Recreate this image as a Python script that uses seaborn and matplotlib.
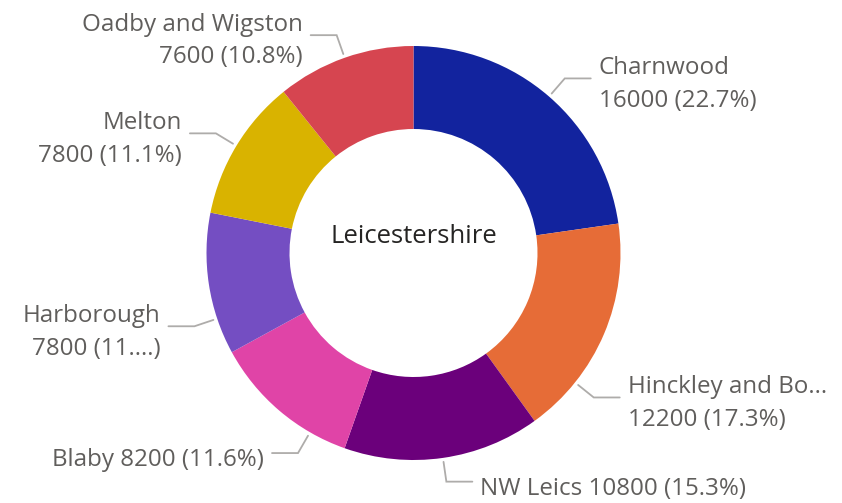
import numpy as np
import matplotlib
matplotlib.use("Agg")
import matplotlib.pyplot as plt
import seaborn as sns

names = ["Charnwood", "Hinckley and Bosworth", "NW Leics", "Blaby",
         "Harborough", "Melton", "Oadby and Wigston"]
values = [16000, 12200, 10800, 8200, 7800, 7800, 7600]
shown_labels = ["Charnwood\n16000 (22.7%)",
                "Hinckley and Bo...\n12200 (17.3%)",
                "NW Leics 10800 (15.3%)",
                "Blaby 8200 (11.6%)",
                "Harborough\n7800 (11....)",
                "Melton\n7800 (11.1%)",
                "Oadby and Wigston\n7600 (10.8%)"]
colors = ["#12239E", "#E66C37", "#6B007B", "#E044A7", "#744EC2", "#D9B300", "#D64550"]
center_title = "Leicestershire"

# layout: leader-line angle nudges (degrees) to avoid label collisions
leader_nudge = [0, 15.7, 0, -10.4, -9.8, 0, 0]

sns.set_theme(style="white")
plt.rcParams['font.family'] = ['Open Sans', 'DejaVu Sans']

W, H = 842, 503
fig = plt.figure(figsize=(W / 100, H / 100), dpi=100)
ax = fig.add_axes([0, 0, 1, 1])

cx, cy = 413.5, 250.0
R, r_in = 207.0, 124.0
palette = sns.color_palette(colors)
ax.pie(values, colors=palette, startangle=90, counterclock=False,
       radius=R, center=(cx, cy),
       wedgeprops=dict(width=R - r_in, linewidth=0))

total = float(sum(values))
cum = np.cumsum([0] + values[:-1])
label_color = "#605E5C"
line_color = "#AEACAA"
for v, c0, txt, nud in zip(values, cum, shown_labels, leader_nudge):
    frac = (c0 + v / 2.0) / total
    ang = 2 * np.pi * frac + np.deg2rad(nud)  # clockwise from top
    sx, sy = np.sin(ang), np.cos(ang)
    x0, y0 = cx + 211 * sx, cy + 211 * sy
    x1, y1 = cx + 231 * sx, cy + 231 * sy
    side = 1 if sx >= 0 else -1
    x2 = x1 + side * 26
    ax.plot([x0, x1, x2], [y0, y1, y1], color=line_color, lw=1.3,
            solid_joinstyle="miter")
    nlines = txt.count("\n") + 1
    dy = 6 if nlines > 1 else 7
    ax.text(x2 + side * 8, y1 - dy, txt, ha="left" if side > 0 else "right",
            va="center", fontsize=17.4, color=label_color, linespacing=1.47)

ax.text(cx, cy + 17, center_title, ha="center", va="center",
        fontsize=18.5, color="#252423")

ax.set_xlim(0, W)
ax.set_ylim(0, H)
ax.set_aspect("equal")
ax.axis("off")
fig.savefig("out.png", dpi=100, facecolor="white")
